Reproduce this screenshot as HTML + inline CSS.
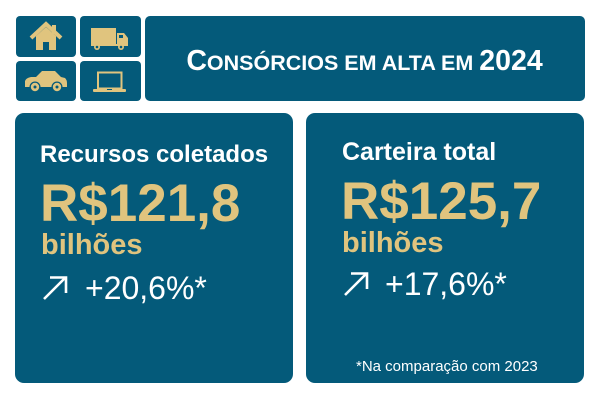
<!DOCTYPE html>
<html>
<head>
<meta charset="utf-8">
<style>
html,body{margin:0;padding:0;background:#fff;}
svg{display:block;}
text{font-family:"Liberation Sans",sans-serif;}
</style>
</head>
<body>
<svg width="600" height="400" viewBox="0 0 600 400" xmlns="http://www.w3.org/2000/svg">
  <rect x="0" y="0" width="600" height="400" fill="#ffffff"/>
  <!-- icon boxes -->
  <rect x="16" y="16" width="60" height="41" rx="4" fill="#045A7A"/>
  <rect x="80" y="16" width="61" height="41" rx="4" fill="#045A7A"/>
  <rect x="16" y="61" width="60" height="40" rx="4" fill="#045A7A"/>
  <rect x="80" y="61" width="61" height="40" rx="4" fill="#045A7A"/>
  <!-- title box -->
  <rect x="145" y="16" width="440" height="85" rx="5" fill="#045A7A"/>
  <!-- cards -->
  <rect x="15" y="113" width="278" height="270" rx="9" fill="#045A7A"/>
  <rect x="306" y="113" width="278" height="270" rx="9" fill="#045A7A"/>

  <!-- house -->
  <rect x="52" y="25" width="4" height="9" fill="#E0C47E"/>
  <polygon points="36,50 36,36 46,27 56,36 56,50" fill="#E0C47E"/>
  <polyline points="31,38 46,24 61,38" fill="none" stroke="#E0C47E" stroke-width="4" stroke-linejoin="miter"/>
  <rect x="43" y="42" width="6" height="8" fill="#045A7A"/>

  <!-- truck -->
  <rect x="91" y="28" width="25" height="16" fill="#E0C47E"/>
  <polygon points="117,33 124,33 128,38 128,45 117,45" fill="#E0C47E"/>
  <rect x="119" y="35" width="4" height="3" fill="#045A7A"/>
  <rect x="91" y="44" width="37" height="2" fill="#E0C47E"/>
  <circle cx="97" cy="47" r="3" fill="#E0C47E"/>
  <circle cx="97" cy="47" r="1.3" fill="#045A7A"/>
  <circle cx="121" cy="47" r="3" fill="#E0C47E"/>
  <circle cx="121" cy="47" r="1.3" fill="#045A7A"/>

  <!-- car -->
  <path d="M25,87 L25,81 Q26,78 31,77 L36,77 L42,71 L55,71 L61,77 L65,78 Q67,80 67,83 L67,87 Z" fill="#E0C47E"/>
  <circle cx="35" cy="87" r="5.5" fill="#045A7A"/>
  <circle cx="35" cy="87" r="4.2" fill="#E0C47E"/>
  <circle cx="35" cy="87" r="1.5" fill="#045A7A"/>
  <circle cx="57" cy="87" r="5.5" fill="#045A7A"/>
  <circle cx="57" cy="87" r="4.2" fill="#E0C47E"/>
  <circle cx="57" cy="87" r="1.5" fill="#045A7A"/>

  <!-- laptop -->
  <rect x="98" y="72.5" width="23.5" height="16" fill="none" stroke="#E0C47E" stroke-width="2"/>
  <rect x="93" y="89" width="33" height="3" rx="1" fill="#E0C47E"/>
  <rect x="107" y="89" width="5" height="1" fill="#045A7A"/>

  <!-- title -->
  <text x="364.5" y="70" text-anchor="middle" fill="#ffffff" font-weight="bold"><tspan font-size="28.5">C</tspan><tspan font-size="21.5">ONSÓRCIOS EM ALTA EM </tspan><tspan font-size="28.5">2024</tspan></text>

  <!-- left card -->
  <text x="40" y="162" fill="#ffffff" font-weight="bold" font-size="24">Recursos coletados</text>
  <text x="40" y="221" fill="#E0C47E" font-weight="bold" font-size="53">R$121,8</text>
  <text x="41" y="254" fill="#E0C47E" font-weight="bold" font-size="29">bilhões</text>
  <g stroke="#ffffff" stroke-width="2.6" fill="none" stroke-linecap="butt">
    <line x1="44" y1="299" x2="65.5" y2="277.5"/>
    <polyline points="50,277.5 66,277.5 66,293"/>
  </g>
  <text x="85" y="299" fill="#ffffff" font-size="32">+20,6%*</text>

  <!-- right card -->
  <text x="342" y="160" fill="#ffffff" font-weight="bold" font-size="25">Carteira total</text>
  <text x="341" y="219" fill="#E0C47E" font-weight="bold" font-size="53">R$125,7</text>
  <text x="342" y="252" fill="#E0C47E" font-weight="bold" font-size="29">bilhões</text>
  <g stroke="#ffffff" stroke-width="2.6" fill="none" stroke-linecap="butt">
    <line x1="345" y1="295" x2="366.5" y2="273.5"/>
    <polyline points="351,273.5 367,273.5 367,289"/>
  </g>
  <text x="385" y="295" fill="#ffffff" font-size="32">+17,6%*</text>

  <text x="356" y="371" fill="#ffffff" font-size="15">*Na comparação com 2023</text>
</svg>
</body>
</html>
